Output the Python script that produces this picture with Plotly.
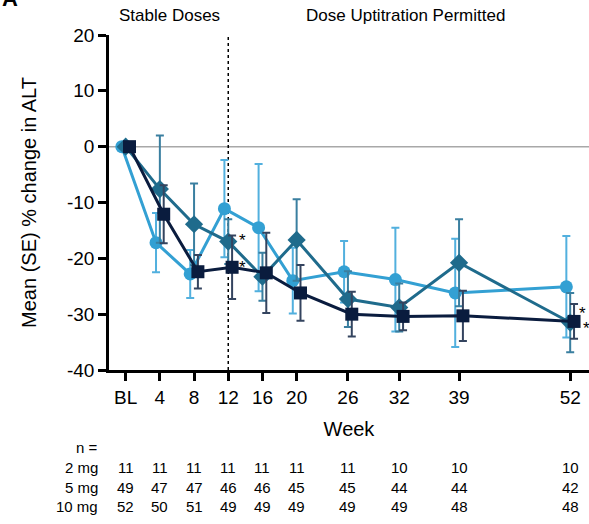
import plotly.graph_objects as go

# Visit weeks (BL = week 0) and their axis labels
weeks = [0, 4, 8, 12, 16, 20, 26, 32, 39, 52]
week_labels = ["BL", "4", "8", "12", "16", "20", "26", "32", "39", "52"]

# y-axis ticks (plain hyphen for negatives)
y_ticks = [20, 10, 0, -10, -20, -30, -40]
y_tick_labels = ["20", "10", "0", "-10", "-20", "-30", "-40"]

# Mean % change in ALT from baseline and its standard error, per dose
mean_2mg = [0, -17.2, -22.8, -11.1, -14.5, -24.0, -22.4, -23.8, -26.2, -25.1]
se_2mg = [0, 5.3, 4.3, 8.7, 11.4, 5.9, 5.5, 9.3, 9.7, 9.1]

mean_5mg = [0, -7.6, -13.9, -17.0, -23.3, -16.7, -27.3, -28.8, -20.8, -31.5]
se_5mg = [0, 9.6, 7.3, 4.0, 4.3, 7.3, 5.0, 4.3, 7.8, 5.3]

mean_10mg = [0, -12.1, -22.4, -21.6, -22.6, -26.2, -30.0, -30.4, -30.3, -31.3]
se_10mg = [0, 5.2, 3.0, 5.7, 7.2, 5.0, 4.0, 2.5, 4.5, 3.1]

# Number of patients at each visit
n_2mg = [11, 11, 11, 11, 11, 11, 11, 10, 10, 10]
n_5mg = [49, 47, 47, 46, 46, 45, 45, 44, 44, 42]
n_10mg = [52, 50, 51, 49, 49, 49, 49, 49, 48, 48]

# Visits with a significant change (marked with an asterisk)
sig_5mg_weeks = [12, 52]
sig_10mg_weeks = [12, 52]

FONT = "Arial, Liberation Sans, sans-serif"
W, H = 589, 524
M_L, M_R, M_T, M_B = 109, 0, 35, 154
PLOT_H = H - M_T - M_B


def paper_y(px):
    """Convert a pixel row (from the top of the page) to paper y."""
    return (H - M_B - px) / PLOT_H


dose_styles = [
    ("2 mg", mean_2mg, se_2mg, -0.45, "circle", 13, "#33a0d3", "#52b0de"),
    ("5 mg", mean_5mg, se_5mg, 0.0, "diamond", 14, "#1f6b8c", "#3a7fa0"),
    ("10 mg", mean_10mg, se_10mg, 0.45, "square", 13, "#0a1c3e", "#34445f"),
]

fig = go.Figure()

for name, mean, se, dx, symbol, size, color, err_color in dose_styles:
    fig.add_trace(go.Scatter(
        x=[w + dx for w in weeks],
        y=mean,
        name=name,
        mode="lines+markers",
        line=dict(color=color, width=3),
        marker=dict(symbol=symbol, size=size, color=color),
        error_y=dict(type="data", array=se, symmetric=True,
                     color=err_color, thickness=2, width=4),
        showlegend=False,
    ))

shapes = [
    # reference line at no change
    dict(type="line", xref="x", yref="y", x0=-1.95, x1=54.2, y0=0, y1=0,
         line=dict(color="#a8a8a8", width=1.5), layer="below"),
    # end of the stable-dose period
    dict(type="line", xref="x", yref="y", x0=12, x1=12, y0=-40, y1=20,
         line=dict(color="black", width=1.5, dash="dot"), layer="below"),
]


def label(text, x, y, xref="x", yref="paper", size=15, **kw):
    d = dict(text=text, x=x, y=y, xref=xref, yref=yref, showarrow=False,
             yanchor="middle", font=dict(family=FONT, size=size, color="black"))
    d.setdefault("xanchor", "center")
    d.update(kw)
    return d


annotations = [
    label("<b>A</b>", 0, paper_y(-2), xref="paper", size=22,
          xanchor="left", xshift=-M_L),
    label("Stable Doses", 5.1, paper_y(15), size=17),
    label("Dose Uptitration Permitted", 32.7, paper_y(15), size=17),
    label("n =", 0, paper_y(447), xref="paper", size=15,
          xanchor="right", xshift=-9),
]

# significance markers beside the 5 mg and 10 mg points
for w in sig_5mg_weeks:
    i = weeks.index(w)
    annotations.append(label("*", w, mean_5mg[i], yref="y", size=17,
                             xanchor="left", xshift=9 if w == 12 else 7,
                             yshift=1 if w == 12 else 9))
for w in sig_10mg_weeks:
    i = weeks.index(w)
    annotations.append(label("*", w, mean_10mg[i], yref="y", size=17,
                             xanchor="left", xshift=9 if w == 12 else 11,
                             yshift=0 if w == 12 else -7))

# patient counts table under the axis
rows = [("2 mg", n_2mg, 467), ("5 mg", n_5mg, 487), ("10 mg", n_10mg, 507)]
for name, counts, row_px in rows:
    annotations.append(label(name, 0, paper_y(row_px), xref="paper", size=15,
                             xanchor="right", xshift=-9))
    for w, n in zip(weeks, counts):
        annotations.append(label(str(n), w, paper_y(row_px), size=15))

fig.update_layout(
    width=W, height=H,
    margin=dict(l=M_L, r=M_R, t=M_T, b=M_B, pad=0),
    paper_bgcolor="white", plot_bgcolor="white",
    font=dict(family=FONT, color="black"),
    shapes=shapes,
    annotations=annotations,
    xaxis=dict(
        range=[-1.95, 54.2],
        tickvals=weeks, ticktext=week_labels,
        ticks="outside", ticklen=8, tickwidth=2.5, tickcolor="black",
        showline=True, linecolor="black", linewidth=2.5,
        showgrid=False, zeroline=False,
        tickfont=dict(family=FONT, size=19, color="black"),
        title=dict(text="Week", font=dict(family=FONT, size=20, color="black"),
                   standoff=16),
    ),
    yaxis=dict(
        range=[-40, 20],
        tickvals=y_ticks, ticktext=y_tick_labels,
        ticks="outside", ticklen=8, tickwidth=2.5, tickcolor="black",
        showline=True, linecolor="black", linewidth=2.5,
        showgrid=False, zeroline=False,
        tickfont=dict(family=FONT, size=19, color="black"),
        title=dict(text="Mean (SE) % change in ALT",
                   font=dict(family=FONT, size=20, color="black"),
                   standoff=25),
    ),
)

fig.write_html("out.html")
